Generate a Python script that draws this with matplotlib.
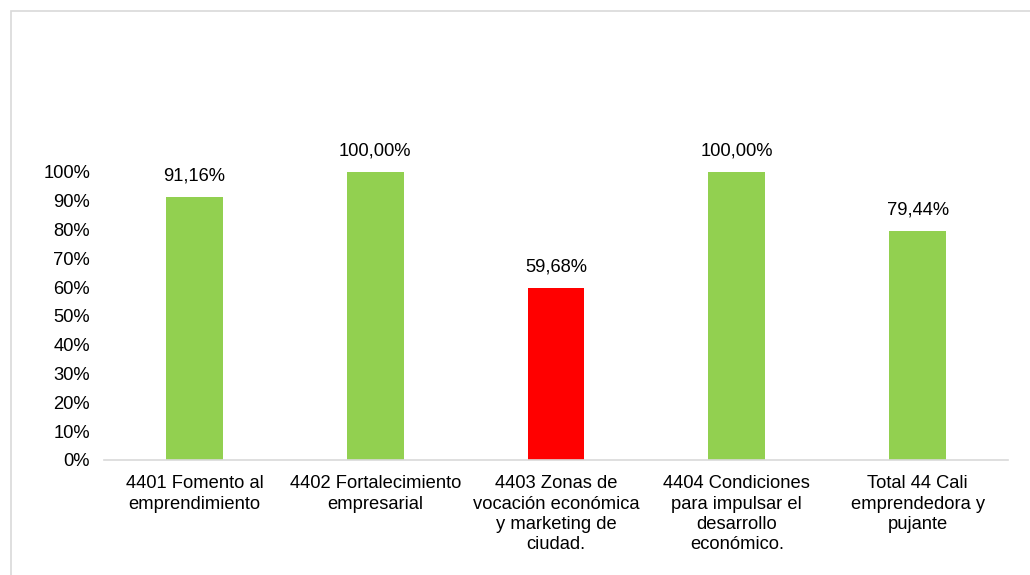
import matplotlib.pyplot as plt
from matplotlib.patches import Rectangle
from matplotlib.ticker import FuncFormatter

plt.rcParams["font.family"] = ["Liberation Sans", "DejaVu Sans"]

categorias = [
    "4401 Fomento al\nemprendimiento",
    "4402 Fortalecimiento\nempresarial",
    "4403 Zonas de\nvocación económica\ny marketing de\nciudad.",
    "4404 Condiciones\npara impulsar el\ndesarrollo\neconómico.",
    "Total 44 Cali\nemprendedora y\npujante",
]
valores = [0.9116, 1.0, 0.5968, 1.0, 0.7944]
colores = ["#92D050", "#92D050", "#FF0000", "#92D050", "#92D050"]

fig = plt.figure(figsize=(10.3, 5.75), dpi=100)
# marco del gráfico (recortado a la derecha y abajo)
fig.patches.append(Rectangle((11 / 1030, -0.05), 1.1, 1 - 11 / 575 + 0.05,
                             transform=fig.transFigure, fill=False,
                             edgecolor="#D9D9D9", linewidth=1.2))

ax = fig.add_axes([0.101, 0.2, 0.8776, 0.5009])
x = range(len(categorias))
bars = ax.bar(x, valores, width=0.315, color=colores)

for b, v in zip(bars, valores):
    ax.text(b.get_x() + b.get_width() / 2, v + 0.045,
            f"{v * 100:.2f}%".replace(".", ","),
            ha="center", va="bottom", fontsize=13.2, color="#000000", clip_on=False)

ax.set_xlim(-0.5, len(categorias) - 0.5)
ax.set_ylim(0, 1)
ax.set_yticks([i / 10 for i in range(11)])
ax.yaxis.set_major_formatter(FuncFormatter(lambda v, p: f"{v * 100:.0f}%"))
ax.set_xticks(list(x))
ax.set_xticklabels(categorias, fontsize=13.2, linespacing=1.26)
ax.tick_params(axis="y", labelsize=13.2, length=0, pad=10)
ax.tick_params(axis="x", length=0, pad=11)

for s in ["top", "right", "left"]:
    ax.spines[s].set_visible(False)
ax.spines["bottom"].set_color("#D9D9D9")
ax.spines["bottom"].set_linewidth(1.2)

fig.savefig("out.png", dpi=100)
